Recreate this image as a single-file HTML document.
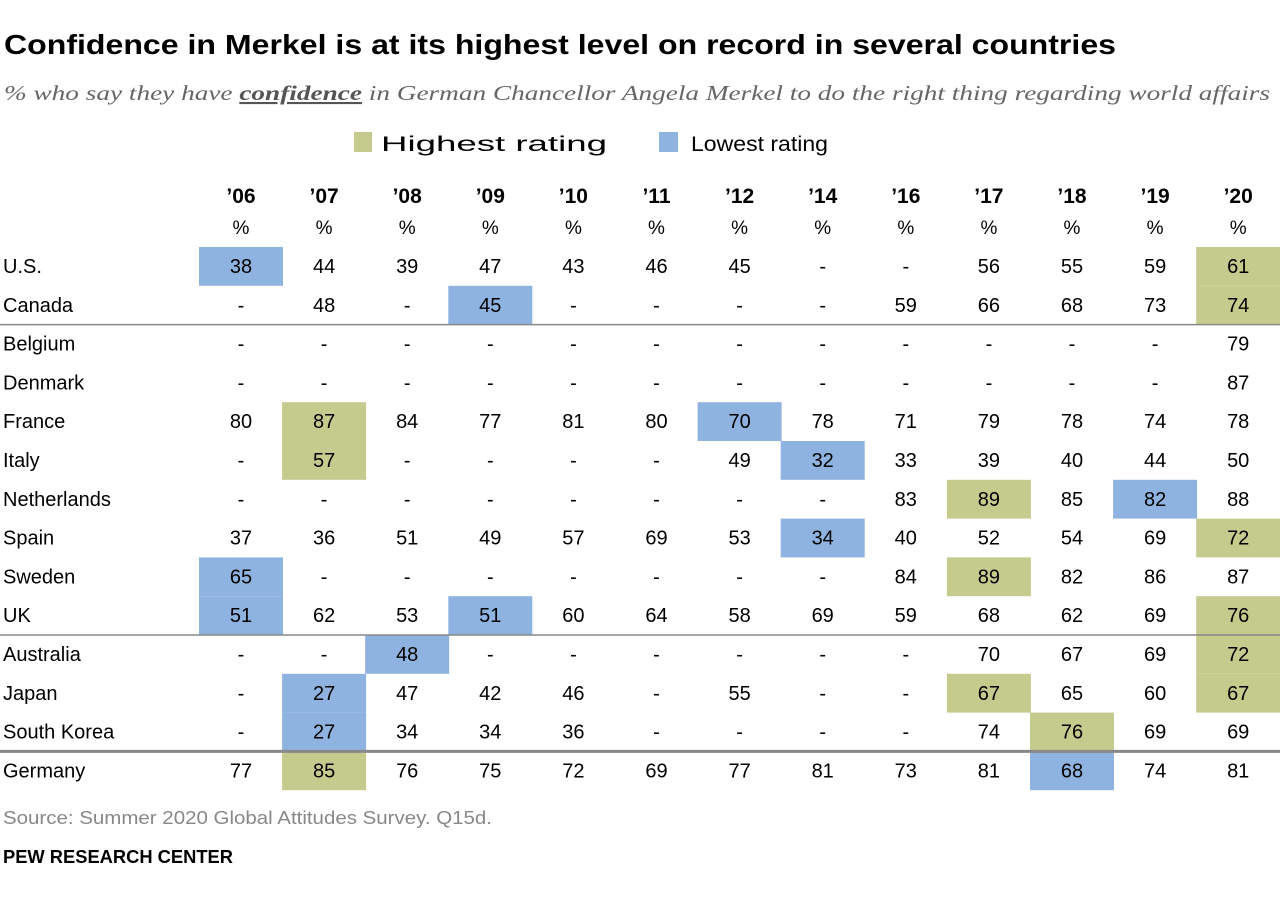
<!DOCTYPE html>
<html><head><meta charset="utf-8"><style>
body{margin:0;background:#fff;width:1280px;height:904px;overflow:hidden}
svg{display:block;font-family:"Liberation Sans",sans-serif}
</style></head><body>
<svg id="c" width="1280" height="904" viewBox="0 0 1280 904">
<text x="4" y="54" font-size="28" font-weight="bold" textLength="1112" lengthAdjust="spacingAndGlyphs">Confidence in Merkel is at its highest level on record in several countries</text>
<text x="4" y="100" font-size="21" font-style="italic" fill="#666" font-family="Liberation Serif,serif" textLength="1266" lengthAdjust="spacingAndGlyphs">% who say they have <tspan font-weight="bold" text-decoration="underline" fill="#555">confidence</tspan> in German Chancellor Angela Merkel to do the right thing regarding world affairs</text>
<rect x="354" y="132" width="18" height="20" fill="#c5ca8d"/>
<text x="381" y="151" font-size="21" textLength="226" lengthAdjust="spacingAndGlyphs">Highest rating</text>
<rect x="659" y="132" width="19" height="20" fill="#8fb3e0"/>
<text x="691" y="151" font-size="21" textLength="137" lengthAdjust="spacingAndGlyphs">Lowest rating</text>
<g id="tbl"></g>
<text x="3" y="824" font-size="18" fill="#888" textLength="489" lengthAdjust="spacingAndGlyphs">Source: Summer 2020 Global Attitudes Survey. Q15d.</text>
<text x="3" y="863" font-size="18" font-weight="bold" textLength="230" lengthAdjust="spacingAndGlyphs">PEW RESEARCH CENTER</text>
</svg>
<script>
const years=["’06","’07","’08","’09","’10","’11","’12","’14","’16","’17","’18","’19","’20"];
const countries=["U.S.","Canada","Belgium","Denmark","France","Italy","Netherlands","Spain","Sweden","UK","Australia","Japan","South Korea","Germany"];
const values=[
["38","44","39","47","43","46","45","-","-","56","55","59","61"],
["-","48","-","45","-","-","-","-","59","66","68","73","74"],
["-","-","-","-","-","-","-","-","-","-","-","-","79"],
["-","-","-","-","-","-","-","-","-","-","-","-","87"],
["80","87","84","77","81","80","70","78","71","79","78","74","78"],
["-","57","-","-","-","-","49","32","33","39","40","44","50"],
["-","-","-","-","-","-","-","-","83","89","85","82","88"],
["37","36","51","49","57","69","53","34","40","52","54","69","72"],
["65","-","-","-","-","-","-","-","84","89","82","86","87"],
["51","62","53","51","60","64","58","69","59","68","62","69","76"],
["-","-","48","-","-","-","-","-","-","70","67","69","72"],
["-","27","47","42","46","-","55","-","-","67","65","60","67"],
["-","27","34","34","36","-","-","-","-","74","76","69","69"],
["77","85","76","75","72","69","77","81","73","81","68","74","81"]];
// highlight: h = highest, l = lowest, "." none
const highlights=[
"l...........h","...l........h","","",".h....l",".h.....l",".........h.l",".......l....h","l........h","l..l........h","..l.........h",".l.......h..h",".l........h",".h........l"];
const svg=document.getElementById('tbl');
const NS="http://www.w3.org/2000/svg";
const colX=i=>241+i*83.1, rowY=r=>247+r*38.8, RH=38.8, CW=84;
function el(t,a){const e=document.createElementNS(NS,t);for(const k in a)e.setAttribute(k,a[k]);svg.appendChild(e);return e;}
years.forEach((y,i)=>{
 const t=el('text',{x:colX(i),y:203,'font-size':21,'font-weight':'bold','text-anchor':'middle'});t.textContent=y;
 
 
 const p=el('text',{x:colX(i),y:234,'font-size':19,'text-anchor':'middle'});p.textContent='%';
 
 
});
countries.forEach((c,r)=>{
 const y0=rowY(r);
 const h=highlights[r]||"";
 for(let i=0;i<years.length;i++){
  const f=h[i];
  if(f==='h'||f==='l'){
   const rc=el('rect',{x:colX(i)-CW/2,y:y0,width:CW,height:RH,fill:f==='h'?'#c5ca8d':'#8fb3e0'});
   
   
  }
 }
 const n=el('text',{x:3,y:y0+26,'font-size':20});n.textContent=c;
 
 
 values[r].forEach((v,i)=>{
  const t=el('text',{x:colX(i),y:y0+26,'font-size':20,'text-anchor':'middle'});t.textContent=v;
  
  
 });
});
[[2,1.5],[10,1.5],[13,3]].forEach(([r,w])=>{
 const l=el('line',{x1:0,x2:1280,y1:rowY(r),y2:rowY(r),stroke:'#888','stroke-width':w});
 
 
});
</script>
</body></html>
